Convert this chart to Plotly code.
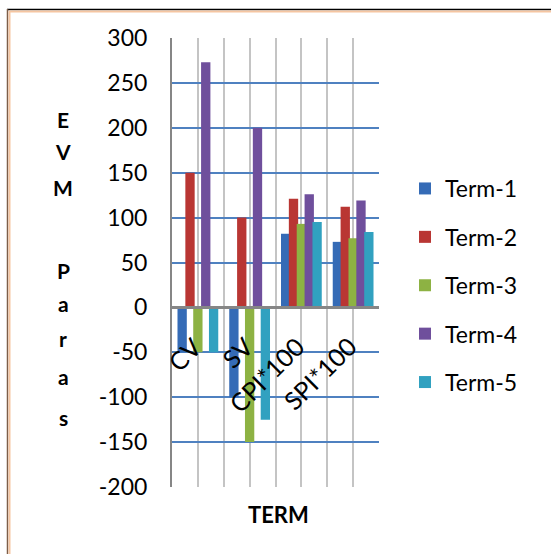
import plotly.graph_objects as go

categories = ["CV", "SV", "CPI*100", "SPI*100"]
series_names = ["Term-1", "Term-2", "Term-3", "Term-4", "Term-5"]
term1 = [-50, -100, 82, 73]
term2 = [150, 100, 121, 112]
term3 = [-50, -150, 93, 77]
term4 = [273, 200, 126, 119]
term5 = [-50, -125, 95, 84]
y_ticks = [300, 250, 200, 150, 100, 50, 0, -50, -100, -150, -200]
y_title_letters = ["E", "V", "M", "P", "a", "r", "a", "s"]
x_title = "TERM"

series_values = [term1, term2, term3, term4, term5]
colors = ["#356bb6", "#b93633", "#8db243", "#6f4f9c", "#31a1c0"]

FONT = "Lato"
L, R, T, B = 172, 172, 38, 67
W, H = 551, 554
PW, PH = W - L - R, H - T - B


def px(x):
    return (x - L) / PW


def py(y):
    return (H - B - y) / PH


fig = go.Figure()
xs = list(range(len(categories)))
step, bw = 0.152, 0.18
for i, (name, vals) in enumerate(zip(series_names, series_values)):
    fig.add_trace(go.Bar(
        x=xs, y=vals, name=name,
        offset=(i - 2) * step - bw / 2, width=bw,
        marker=dict(color=colors[i], line=dict(width=0)),
        legendgroup=name,
    ))

fig.update_layout(
    width=W, height=H,
    margin=dict(l=L, r=R, t=T, b=B, pad=0),
    paper_bgcolor="white", plot_bgcolor="white",
    barmode="overlay",
    font=dict(family=FONT, size=23, color="black"),
    showlegend=True,
    legend=dict(x=px(405), xanchor="left", y=py(167), yanchor="top",
                tracegroupgap=15.5, font=dict(size=23),
                bgcolor="rgba(0,0,0,0)"),
    xaxis=dict(range=[-0.5, 3.5], tickmode="linear", tick0=-0.5, dtick=0.5,
               showticklabels=False, showgrid=True, gridcolor="#c4c4c4",
               gridwidth=2, zeroline=False, showline=False, fixedrange=True),
    yaxis=dict(range=[-200, 300], tickmode="array", tickvals=y_ticks,
               ticktext=[str(v) for v in y_ticks], showgrid=True,
               gridcolor="#4f81c0", gridwidth=2, zeroline=False,
               showline=True,
               linecolor="#868686", linewidth=2, ticks="",
               ticklabelstandoff=18, tickfont=dict(size=23)),
)

# zero line drawn above bars, as in the reference
fig.add_shape(type="line", xref="paper", yref="y", x0=0, x1=1, y0=0, y1=0,
              line=dict(color="#868686", width=3), layer="above")

for i, c in enumerate(categories):
    fig.add_annotation(x=i + 0.23, y=-23, xref="x", yref="y", text=c,
                       textangle=-45, showarrow=False, xanchor="right",
                       yanchor="top", font=dict(size=25))

fig.add_annotation(x=px(278), y=py(514), xref="paper", yref="paper",
                   text="<b>" + x_title + "</b>", showarrow=False,
                   font=dict(size=22), xanchor="center", yanchor="middle")

letter_y = [120, 151, 188, 270, 303, 338, 376, 417]
for ch, yy in zip(y_title_letters, letter_y):
    fig.add_annotation(x=px(63), y=py(yy), xref="paper", yref="paper",
                       text="<b>" + ch + "</b>", showarrow=False,
                       font=dict(size=21), xanchor="center", yanchor="middle")

# chart border
fig.add_shape(type="line", xref="paper", yref="paper", x0=px(7), x1=px(551),
              y0=py(9.5), y1=py(9.5), line=dict(color="black", width=1.5))
fig.add_shape(type="line", xref="paper", yref="paper", x0=px(9), x1=px(551),
              y0=py(11.5), y1=py(11.5), line=dict(color="#f5c6a2", width=2))
fig.add_shape(type="line", xref="paper", yref="paper", x0=px(7.5), x1=px(7.5),
              y0=py(9), y1=py(554), line=dict(color="#7d5e48", width=1.5))
fig.add_shape(type="line", xref="paper", yref="paper", x0=px(9.5), x1=px(9.5),
              y0=py(11), y1=py(554), line=dict(color="#f5c6a2", width=2))

fig.write_html("out.html",
               config={"displayModeBar": False},
               post_script="document.body.style.margin='0';"
                           "document.body.style.overflow='hidden';")
